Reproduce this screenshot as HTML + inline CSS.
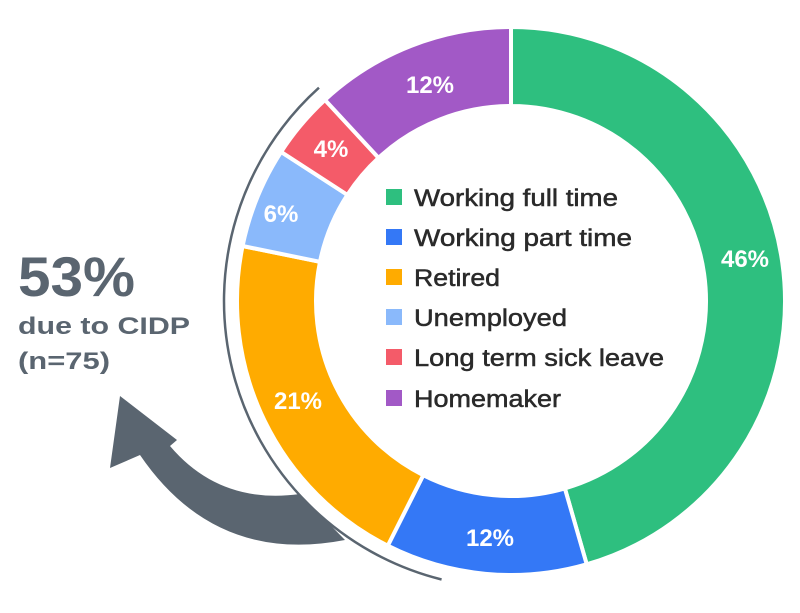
<!DOCTYPE html>
<html><head><meta charset="utf-8"><style>
body{margin:0;background:#fff;}
svg{display:block;font-family:"Liberation Sans",sans-serif;}
</style></head><body>
<svg id="s" width="800" height="613" viewBox="0 0 800 613">
<path d="M 345 540 Q 215 565 140 455 L 110 468 L 120 396 L 177 440 L 170 446 Q 220 505 300 494 Z" fill="#5a6570"/>
<circle cx="511" cy="301" r="284" fill="#fff"/>
<g id="arcs"></g>
<path id="outer" fill="none" stroke="#5a6570" stroke-width="2.5"/>
<g fill="#fff" font-weight="bold" font-size="24" text-anchor="middle">
<text x="745" y="267">46%</text>
<text x="490" y="546">12%</text>
<text x="298" y="409">21%</text>
<text x="281" y="222">6%</text>
<text x="331" y="157">4%</text>
<text x="430" y="93">12%</text>
</g>
<g font-size="24" fill="#2a2a2a" stroke="#2a2a2a" stroke-width="0.5">
<rect x="386" y="189" width="16" height="16" fill="#2ebf7f" stroke="none"/><text x="414" y="206" textLength="204" lengthAdjust="spacingAndGlyphs">Working full time</text>
<rect x="386" y="229" width="16" height="16" fill="#3478f6" stroke="none"/><text x="414" y="246" textLength="218" lengthAdjust="spacingAndGlyphs">Working part time</text>
<rect x="386" y="269" width="16" height="16" fill="#ffab00" stroke="none"/><text x="414" y="286" textLength="86" lengthAdjust="spacingAndGlyphs">Retired</text>
<rect x="386" y="309" width="16" height="16" fill="#8ab9fb" stroke="none"/><text x="414" y="326" textLength="153" lengthAdjust="spacingAndGlyphs">Unemployed</text>
<rect x="386" y="349" width="16" height="16" fill="#f45b69" stroke="none"/><text x="414" y="366" textLength="250" lengthAdjust="spacingAndGlyphs">Long term sick leave</text>
<rect x="386" y="390" width="16" height="16" fill="#a259c6" stroke="none"/><text x="414" y="407" textLength="147" lengthAdjust="spacingAndGlyphs">Homemaker</text>
</g>
<g fill="#5a6570" font-weight="bold">
<text x="18" y="296" font-size="56" textLength="117" lengthAdjust="spacingAndGlyphs">53%</text>
<text x="18" y="334" font-size="24" textLength="172" lengthAdjust="spacingAndGlyphs">due to CIDP</text>
<text x="18" y="369" font-size="24" textLength="92" lengthAdjust="spacingAndGlyphs">(n=75)</text>
</g>
</svg>
<script>
var cx=511,cy=301,R=274,r=195;
var d=[[46,"#2ebf7f"],[12,"#3478f6"],[21,"#ffab00"],[6,"#8ab9fb"],[4,"#f45b69"],[12,"#a259c6"]];
function p(a,rad){a=a*Math.PI/180;return [cx+rad*Math.sin(a),cy-rad*Math.cos(a)];}
var a0=0,h="";
d.forEach(function(e){var a1=a0+e[0]/101*360;var L=(a1-a0)>180?1:0;
var A=p(a0,R),B=p(a1,R),C=p(a1,r),D=p(a0,r);
h+='<path d="M'+A+' A'+R+' '+R+' 0 '+L+' 1 '+B+' L'+C+' A'+r+' '+r+' 0 '+L+' 0 '+D+' Z" fill="'+e[1]+'" stroke="#fff" stroke-width="4" stroke-linejoin="round"/>';a0=a1;});
document.getElementById("arcs").innerHTML=h;
var Ro=287,s=p(318,Ro),t=p(194,Ro);
document.getElementById("outer").setAttribute("d","M"+s+" A"+Ro+" "+Ro+" 0 0 0 "+t);
</script>
</body></html>
